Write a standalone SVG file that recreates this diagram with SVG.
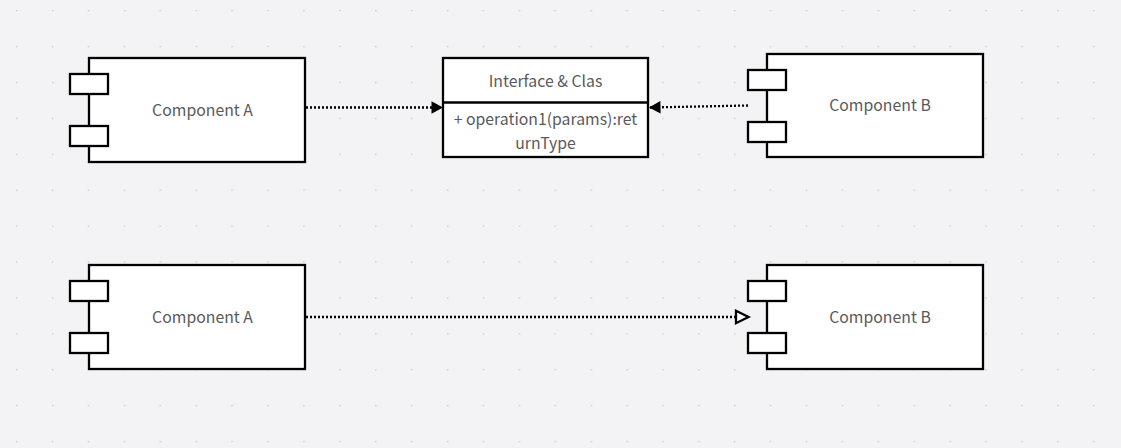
<svg xmlns="http://www.w3.org/2000/svg" width="1121" height="448" viewBox="0 0 1121 448">
<style>
.b{fill:#fff;stroke:#000;stroke-width:2.3}
.t{font-family:"Noto Sans CJK SC","Noto Sans",sans-serif;font-size:15.800px;fill:#5a5a5a;text-anchor:middle}
.c{fill:none;stroke:#000;stroke-width:2.300;stroke-dasharray:2 2}
</style>
<defs>
<pattern id="dots" x="16" y="10" width="35.9" height="35.9" patternUnits="userSpaceOnUse"><circle cx="0.8" cy="0.8" r="0.8" fill="#c4c4c8"/></pattern>
<marker id="fa" markerWidth="14" markerHeight="14" refX="12" refY="7" orient="auto" markerUnits="userSpaceOnUse"><path d="M0.500 0.800 L12 7 L0.500 13.200 Z" fill="#000"/></marker>
<marker id="oa" markerWidth="18" markerHeight="18" refX="15" refY="9" orient="auto" markerUnits="userSpaceOnUse"><path d="M2 2.800 L14.500 9 L2 15.200 Z" fill="#fff" stroke="#000" stroke-width="2.300"/></marker>
</defs>
<rect width="1121" height="448" fill="#f3f3f6"/>
<rect width="1121" height="448" fill="url(#dots)"/>
<g id="connectors">
<path class="c" d="M306 107.500 L443 107.500" marker-end="url(#fa)"/>
<path class="c" d="M748 105.500 L649 107.500" marker-end="url(#fa)"/>
<path class="c" d="M306 317 L749 317" marker-end="url(#oa)"/>
</g>
<g id="component-a-top">
<rect class="b" x="89" y="58" width="216" height="104"/>
<rect class="b" x="70" y="74" width="38" height="20"/>
<rect class="b" x="70" y="126" width="38" height="20"/>
<text class="t" x="202.500" y="116">Component A</text>
</g>
<g id="interface-class">
<rect class="b" x="443" y="58" width="205" height="99"/>
<path d="M443 102.500 H648" stroke="#000" stroke-width="2.300" fill="none"/>
<text class="t" x="545.500" y="86.500">Interface &amp; Clas</text>
<text class="t" x="545.500" y="124.500">+ operation1(params):ret</text>
<text class="t" x="545.500" y="148.500">urnType</text>
</g>
<g id="component-b-top">
<rect class="b" x="767" y="54" width="216" height="103"/>
<rect class="b" x="748" y="70" width="38" height="20"/>
<rect class="b" x="748" y="122" width="38" height="20"/>
<text class="t" x="880" y="111">Component B</text>
</g>
<g id="component-a-bottom">
<rect class="b" x="89" y="265" width="216" height="104"/>
<rect class="b" x="70" y="281" width="38" height="20"/>
<rect class="b" x="70" y="333" width="38" height="20"/>
<text class="t" x="202.500" y="323">Component A</text>
</g>
<g id="component-b-bottom">
<rect class="b" x="767" y="265" width="216" height="104"/>
<rect class="b" x="748" y="281" width="38" height="20"/>
<rect class="b" x="748" y="333" width="38" height="20"/>
<text class="t" x="880" y="323">Component B</text>
</g>
</svg>
